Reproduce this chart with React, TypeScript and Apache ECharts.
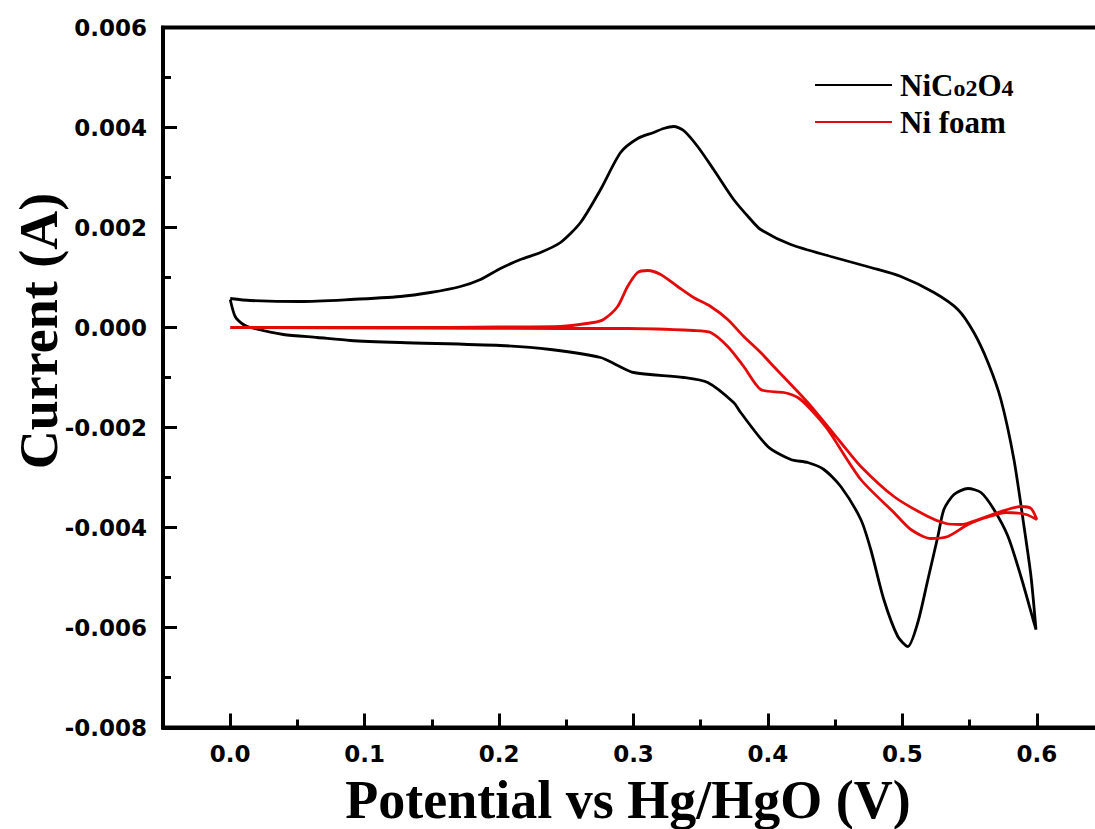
import React, { useEffect, useRef } from "react";
import * as echarts from "echarts";

const seriesNames = ["NiCo2O4", "Ni foam"];

// NiCo2O4 cyclic voltammogram: [potential (V), current (A)]
const nico2o4: [number, number][] = [
  [0.0, 0.00058], [0.0149, 0.00054], [0.0521, 0.00052], [0.0894, 0.00056],
  [0.1266, 0.00062], [0.1489, 0.0007], [0.1713, 0.00082], [0.1862, 0.00096],
  [0.201, 0.00118], [0.2159, 0.00136], [0.2308, 0.0015], [0.2457, 0.0017],
  [0.2606, 0.0021], [0.2755, 0.00276], [0.2904, 0.0035], [0.3031, 0.00378],
  [0.315, 0.0039], [0.3224, 0.00398], [0.3299, 0.00402], [0.3373, 0.00394],
  [0.3477, 0.00362], [0.3596, 0.00316], [0.3745, 0.00256], [0.3872, 0.00216],
  [0.3946, 0.00196], [0.417, 0.00166], [0.4468, 0.00142], [0.4765, 0.0012],
  [0.4989, 0.00102], [0.5235, 0.0007], [0.5413, 0.00036], [0.5532, -0.0001],
  [0.5637, -0.0007], [0.5733, -0.00144], [0.583, -0.00264], [0.5905, -0.00398],
  [0.5957, -0.00498], [0.5994, -0.00604],
  [0.5979, -0.0059], [0.5882, -0.00498], [0.5786, -0.00418], [0.5681, -0.00364],
  [0.5585, -0.0033], [0.5488, -0.00322], [0.5384, -0.00334], [0.5309, -0.00364],
  [0.5264, -0.00418], [0.519, -0.00504], [0.5115, -0.0059], [0.5041, -0.00638],
  [0.4966, -0.00618], [0.4862, -0.00544], [0.4765, -0.00444], [0.4691, -0.00384],
  [0.4542, -0.00318], [0.4416, -0.00284], [0.4296, -0.0027], [0.417, -0.00264],
  [0.3999, -0.00238], [0.3797, -0.0017], [0.3745, -0.0015], [0.3552, -0.0011],
  [0.3373, -0.001], [0.3001, -0.0009], [0.2882, -0.00076], [0.2755, -0.0006],
  [0.2383, -0.00044], [0.201, -0.00036], [0.1266, -0.0003], [0.0894, -0.00026],
  [0.0648, -0.0002], [0.0395, -0.00014], [0.0149, 0.0], [0.0097, 0.00006],
  [0.0037, 0.00022], [0.0, 0.00056],
];

// Ni foam cyclic voltammogram: [potential (V), current (A)]
const niFoam: [number, number][] = [
  [0.0, 0.0], [0.0521, 0.0], [0.1266, 0.0], [0.201, 0.00001],
  [0.2457, 0.00002], [0.2703, 0.0001], [0.2777, 0.00016], [0.2882, 0.00042],
  [0.2956, 0.00082], [0.3031, 0.0011], [0.3105, 0.00114], [0.3202, 0.00106],
  [0.3328, 0.00082], [0.3447, 0.0006], [0.3574, 0.00042], [0.3701, 0.00016],
  [0.382, -0.00018], [0.3946, -0.0005], [0.4043, -0.00078], [0.4296, -0.0015],
  [0.4542, -0.0023], [0.4691, -0.00278], [0.4937, -0.00338], [0.519, -0.00378],
  [0.5324, -0.00392], [0.5436, -0.00394], [0.5585, -0.00382], [0.5733, -0.00368],
  [0.5882, -0.00358], [0.5957, -0.00362], [0.6, -0.00384],
  [0.592, -0.00374], [0.5771, -0.0037], [0.5622, -0.0038], [0.5488, -0.00394],
  [0.5339, -0.00418], [0.5212, -0.00422], [0.5063, -0.00404], [0.4937, -0.0037],
  [0.4691, -0.00304], [0.4445, -0.00204], [0.4319, -0.00164], [0.4222, -0.0014],
  [0.4118, -0.0013], [0.3946, -0.00124], [0.382, -0.00078], [0.3701, -0.00038],
  [0.3574, -0.0001], [0.3447, -0.00006], [0.2956, -0.00002], [0.2457, -0.00002],
  [0.1266, -0.00001], [0.0, 0.0],
];

const xMajorTicks = [0.0, 0.1, 0.2, 0.3, 0.4, 0.5, 0.6];
const xMinorTicks = [0.05, 0.15, 0.25, 0.35, 0.45, 0.55];
const xTitle = "Potential vs Hg/HgO (V)";
const yTitle = "Current (A)";

export default function App() {
  const ref = useRef<HTMLDivElement>(null);
  useEffect(() => {
    if (!ref.current) return;
    const chart = echarts.init(ref.current, null, { renderer: "svg" });
    const labelFont = {
      fontFamily: "DejaVu Sans",
      fontWeight: "bold" as const,
      fontSize: 23,
      lineHeight: 23,
      color: "#000",
    };
    chart.setOption({
      animation: false,
      backgroundColor: "#fff",
      grid: {
        left: 163,
        top: 27.5,
        width: 941,
        height: 700,
        show: true,
        borderColor: "#000",
        borderWidth: 4,
        backgroundColor: "transparent",
      },
      legend: {
        orient: "vertical",
        left: 810,
        top: 64,
        itemWidth: 77,
        itemHeight: 32,
        itemGap: 5,
        icon: "path://M0,15 L77,15 L77,17 L0,17 Z",
        data: seriesNames,
        formatter: (name: string) =>
          name === "NiCo2O4" ? "{a|NiC}{s|o2}{a|O}{s|4}" : "{a|" + name + "}",
        textStyle: {
          fontFamily: "Liberation Serif",
          fontWeight: "bold",
          fontSize: 31,
          lineHeight: 32,
          color: "#000",
          padding: [0, 0, 0, 3],
          rich: {
            a: { fontFamily: "Liberation Serif", fontWeight: "bold", fontSize: 31, lineHeight: 32, color: "#000" },
            s: { fontFamily: "Liberation Serif", fontWeight: "bold", fontSize: 24, lineHeight: 32, color: "#000", padding: [5, 0, 0, 0] },
          },
        },
      },
      xAxis: [
        {
          type: "value",
          min: -0.05,
          max: 0.65,
          position: "bottom",
          axisLine: { show: true, onZero: false, lineStyle: { color: "#000", width: 4 } },
          axisTick: {
            show: true,
            inside: true,
            length: 14,
            customValues: xMajorTicks,
            lineStyle: { color: "#000", width: 3 },
          },
          axisLabel: {
            show: true,
            customValues: xMajorTicks,
            formatter: (v: number) => v.toFixed(1),
            margin: 15,
            ...labelFont,
          },
          splitLine: { show: false },
        },
        {
          type: "value",
          min: -0.05,
          max: 0.65,
          position: "bottom",
          gridIndex: 0,
          axisLine: { show: false, onZero: false },
          axisTick: {
            show: true,
            inside: true,
            length: 8,
            customValues: xMinorTicks,
            lineStyle: { color: "#000", width: 3 },
          },
          axisLabel: { show: false },
          splitLine: { show: false },
        },
      ],
      yAxis: {
        type: "value",
        min: -0.008,
        max: 0.006,
        interval: 0.002,
        axisLine: { show: true, onZero: false, lineStyle: { color: "#000", width: 4 } },
        axisTick: { show: true, inside: true, length: 14, lineStyle: { color: "#000", width: 3 } },
        minorTick: { show: true, splitNumber: 2, length: 8, lineStyle: { color: "#000", width: 3 } },
        axisLabel: {
          margin: 16,
          formatter: (v: number) => v.toFixed(3),
          ...labelFont,
        },
        splitLine: { show: false },
        minorSplitLine: { show: false },
      },
      graphic: [
        {
          type: "text",
          x: 39,
          y: 331,
          rotation: Math.PI / 2,
          style: {
            text: yTitle,
            fontFamily: "Liberation Serif",
            fontWeight: "bold",
            fontSize: 54,
            lineHeight: 46,
            fill: "#000",
            align: "center",
            verticalAlign: "middle",
          },
        },
        {
          type: "text",
          x: 628,
          y: 800,
          style: {
            text: xTitle,
            fontFamily: "Liberation Serif",
            fontWeight: "bold",
            fontSize: 54,
            lineHeight: 44,
            fill: "#000",
            align: "center",
            verticalAlign: "middle",
          },
        },
      ],
      series: [
        {
          name: seriesNames[0],
          type: "line",
          xAxisIndex: 0,
          data: nico2o4,
          showSymbol: false,
          symbol: "none",
          smooth: 0.25,
          lineStyle: { color: "#000", width: 2.8 },
          itemStyle: { color: "#000" },
          clip: true,
        },
        {
          name: seriesNames[1],
          type: "line",
          xAxisIndex: 0,
          data: niFoam,
          showSymbol: false,
          symbol: "none",
          smooth: 0.25,
          lineStyle: { color: "#e50a0a", width: 2.8 },
          itemStyle: { color: "#e50a0a" },
          clip: true,
        },
      ],
    });
    return () => chart.dispose();
  }, []);
  return (
    <div style={{ position: "absolute", left: 0, top: 0, width: 1095, height: 829, overflow: "hidden", background: "#fff" }}>
      <div ref={ref} style={{ width: 1110, height: 829 }} />
    </div>
  );
}
